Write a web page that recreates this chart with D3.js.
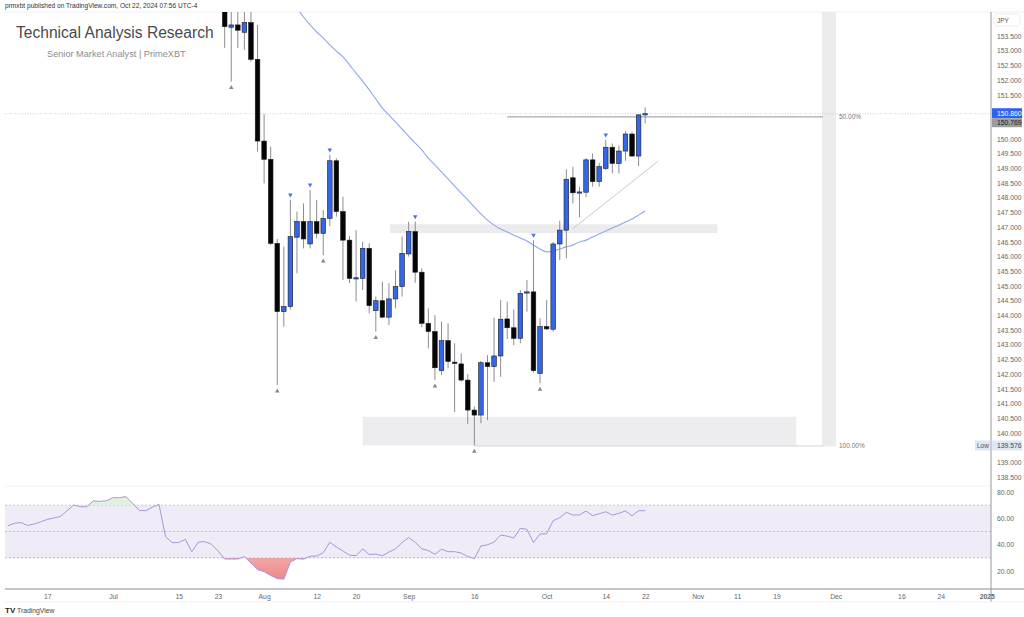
<!DOCTYPE html>
<html><head><meta charset="utf-8">
<script src="https://cdn.jsdelivr.net/npm/d3@7"></script>
<style>html,body{margin:0;padding:0;background:#fff;}svg{display:block;font-family:"Liberation Sans",Arial,sans-serif;}</style>
</head><body><svg id="c" width="1024" height="617"></svg>
<script>
// ---------- DATA ----------
const firstIdx = 17; // bar index of first candle (Jul 1 2024 = 0, weekdays)
const open  = [154.6,153.8,153.88,153.63,153.96,152.71,149.93,149.31,146.45,144.13,144.3,146.66,147.19,146.43,147.19,146.79,147.3,149.26,147.53,146.56,145.26,145.26,146.28,144.16,144.5,143.94,144.56,144.98,146.09,146.85,145.47,143.73,143.45,142.12,143.14,142.41,142.35,141.8,140.78,140.61,142.39,142.26,142.62,143.88,143.58,143.22,144.76,144.8,142.03,143.62,143.53,146.43,146.9,148.68,148.19,148.19,149.29,148.55,149.0,149.72,149.17,149.59,150.17,149.42,150.82];
const high  = [155.0,154.6,154.5,154.5,154.5,153.88,150.84,149.74,146.6,146.34,147.93,147.53,147.81,148.27,147.93,147.58,149.46,149.34,148.04,146.7,146.9,146.51,146.45,144.64,145.15,145.1,145.54,146.68,147.19,147.19,145.6,144.24,144.01,143.79,143.73,143.05,142.71,142.0,140.9,142.45,142.65,143.92,144.52,144.47,144.2,144.86,145.2,146.56,143.9,144.52,146.5,147.22,148.97,149.06,148.38,149.35,149.51,149.19,149.97,149.85,149.78,150.27,150.25,150.85,151.08];
const low   = [153.1,151.95,153.1,153.03,152.63,149.57,148.49,146.4,141.63,143.62,144.2,145.43,146.28,146.28,146.62,146.05,147.04,147.36,145.2,145.1,144.47,144.86,144.07,143.45,143.9,143.67,144.24,144.64,146.0,145.11,143.6,142.88,141.8,141.97,142.2,140.72,141.75,140.31,139.576,140.33,140.44,141.74,141.91,143.2,142.99,143.05,144.13,142.06,141.69,143.5,143.45,145.88,145.94,147.81,147.34,148.02,148.38,148.38,148.95,148.83,148.83,149.26,149.4,149.08,150.53];
const close = [153.82,153.88,153.7,153.96,152.71,149.93,149.31,146.45,144.13,144.3,146.68,147.19,146.6,147.19,146.79,147.3,149.26,147.53,146.56,145.26,145.28,146.28,144.33,144.5,143.94,144.56,144.98,146.11,146.85,145.47,143.73,143.45,142.22,143.14,142.43,142.39,141.8,140.78,140.61,142.39,142.26,142.62,143.87,143.58,143.22,144.75,144.8,142.12,143.62,143.54,146.43,146.9,148.63,148.17,148.2,149.29,148.55,149.06,149.72,149.17,149.59,150.17,149.42,150.82,150.86];
// moving average (blue line), bar indices 28..81
const maStart = 28;
const maValues = [154.45,154.15,153.88,153.64,153.44,153.2,152.99,152.79,152.52,152.24,151.97,151.67,151.36,151.05,150.82,150.58,150.34,150.1,149.86,149.63,149.35,149.12,148.88,148.64,148.4,148.16,147.93,147.69,147.45,147.24,147.07,146.94,146.84,146.73,146.63,146.53,146.39,146.26,146.16,146.19,146.26,146.33,146.39,146.5,146.56,146.67,146.77,146.87,146.97,147.07,147.18,147.28,147.41,147.55];
// RSI, bar indices -16..81
const rsiStart = -16;
const rsiValues = [54.3,56.3,56.8,54.6,55.7,57.3,59.2,60.3,61.4,65.8,70.1,68.8,68.8,73.2,72.9,73.4,75.7,75.7,76.5,71.3,66,65.8,68.5,70.6,46.1,41.5,41.6,44.1,34.7,42,42.3,40.3,35.2,29.1,29.1,29.1,30.9,26,21,19.5,16.6,14.2,13.8,26.8,29.4,29,31.2,31.4,33.9,41.8,38.2,35.3,32,31.6,36.8,32.5,32.9,31.6,34.4,36.8,41.5,45.4,41.8,36.8,35.5,32.7,36.5,34.7,34.7,33.6,31,29.4,39,39.9,42,47.3,46.5,45,52.4,51.6,41.7,48.1,48.3,58.2,60.5,64.6,62.5,62.6,65.5,62,63.4,65,62.5,63.8,65.6,61.8,65.8,65.8];
// pivot markers
const lowMarkIdx  = [18,25,32,40,49,55,65];
const highMarkIdx = [27,30,33,46,64,75];
// axis ticks
const xTickIdx    = [-10,0,10,16,23,31,37,45,55,66,75,81,89,95,101,110,120,126,133];
const xTickLabels = ["17","Jul","15","23","Aug","12","20","Sep","16","Oct","14","22","Nov","11","19","Dec","16","24","2025"];
const priceTicks  = [138.5,139,140,140.5,141,141.5,142,142.5,143,143.5,144,144.5,145,145.5,146,146.5,147,147.5,148,148.5,149,149.5,150,151.5,152,152.5,153,153.5];
const rsiTicks    = [80,60,40,20];
// drawings
const resBox = {i0:44, i1:92, p0:147.1, p1:146.8};
const supBox = {i0:38, i1:104, p0:140.55, p1:139.576};
const fibLevels = [{p:150.769,lab:"50.00%",i0:60},{p:139.576,lab:"100.00%",i0:55}];
const trend = [{i:70,p:146.95},{i:83,p:149.25}];
const lastPrice = 150.860, fib50 = 150.769, lowPrice = 139.576;

// ---------- SCALES ----------
const svg = d3.select("#c");
const x = d3.scaleLinear().domain([0,100]).range([113,113+657]);
const y = d3.scaleLinear().domain([150,140]).range([139,433]);
const yr = d3.scaleLinear().domain([80,20]).range([492,571]);
const L = 5, R = 991, T = 12, PB = 486, XA = 589;

svg.append("clipPath").attr("id","main").append("rect").attr("x",L).attr("y",T).attr("width",R-L).attr("height",PB-T);
svg.append("clipPath").attr("id","rsi").append("rect").attr("x",L).attr("y",PB).attr("width",R-L).attr("height",XA-PB);

// header
svg.append("text").attr("x",5).attr("y",8).attr("font-size",6.6).attr("fill","#333")
  .text("prmxbt published on TradingView.com, Oct 22, 2024 07:56 UTC-4");
svg.append("line").attr("x1",L).attr("x2",1024).attr("y1",T).attr("y2",T).attr("stroke","#eceef2");

const g = svg.append("g").attr("clip-path","url(#main)");

// fib shaded column
g.append("rect").attr("x",822).attr("y",T).attr("width",14).attr("height",y(lowPrice)-T+1).attr("fill","#ececec");
// boxes
g.append("rect").attr("x",x(resBox.i0)-12).attr("y",y(resBox.p0)).attr("width",x(resBox.i1)-x(resBox.i0)+12).attr("height",y(resBox.p1)-y(resBox.p0)).attr("fill","#ebebed");
g.append("rect").attr("x",x(supBox.i0)).attr("y",y(supBox.p0)).attr("width",x(supBox.i1)-x(supBox.i0)).attr("height",y(supBox.p1)-y(supBox.p0)).attr("fill","#ededef");
// fib lines
fibLevels.forEach((f,k)=>{
  g.append("line").attr("x1",x(f.i0)).attr("x2",823).attr("y1",y(f.p)+0.5).attr("y2",y(f.p)+0.5)
   .attr("stroke",k===0?"#777":"#c8c8c8").attr("stroke-width",0.8);
  g.append("text").attr("x",839).attr("y",y(f.p)+3).attr("font-size",6.5).attr("fill","#777").text(f.lab);
});
// current price dotted line
g.append("line").attr("x1",L).attr("x2",R).attr("y1",y(lastPrice)).attr("y2",y(lastPrice))
  .attr("stroke","#9fd3cc").attr("stroke-width",0.8).attr("stroke-dasharray","1,1.5");
// trend line
g.append("line").attr("x1",x(trend[0].i)).attr("y1",y(trend[0].p)).attr("x2",x(trend[1].i)).attr("y2",y(trend[1].p))
  .attr("stroke","#c4c4c4").attr("stroke-width",0.9);
// MA
const maLine = d3.line().x((d,k)=>x(maStart+k)).y(d=>y(d)).curve(d3.curveMonotoneX);
g.append("path").attr("d",maLine(maValues)).attr("fill","none").attr("stroke","#8ea6f2").attr("stroke-width",1.1);

// candles
const bars = open.map((o,k)=>({i:firstIdx+k,o,h:high[k],l:low[k],c:close[k]}));
const bw = 4.6;
const cg = g.append("g");
cg.selectAll("line.w").data(bars).join("line").attr("class","w")
  .attr("x1",d=>x(d.i)).attr("x2",d=>x(d.i)).attr("y1",d=>y(d.h)).attr("y2",d=>y(d.l))
  .attr("stroke","#8a8d95").attr("stroke-width",1);
cg.selectAll("rect.b").data(bars).join("rect").attr("class","b")
  .attr("x",d=>x(d.i)-bw/2).attr("width",bw)
  .attr("y",d=>y(Math.max(d.o,d.c))).attr("height",d=>Math.max(1.2,Math.abs(y(d.o)-y(d.c))))
  .attr("fill",d=>d.c>=d.o?"#3566ea":"#050505").attr("stroke","#1c1c1c").attr("stroke-width",0.6);
// markers
const byIdx = new Map(bars.map(b=>[b.i,b]));
const tri = d3.symbol().type(d3.symbolTriangle).size(9);
lowMarkIdx.forEach(i=>{const b=byIdx.get(i);
  g.append("path").attr("d",tri()).attr("transform",`translate(${x(i)},${y(b.l)+6})`).attr("fill","#888");});
highMarkIdx.forEach(i=>{const b=byIdx.get(i);
  g.append("path").attr("d",tri()).attr("transform",`translate(${x(i)},${y(b.h)-5}) rotate(180)`).attr("fill","#4a73ee");});

// title
svg.append("text").attr("x",16).attr("y",38).attr("font-size",15.6).attr("fill","#4a4a4a").text("Technical Analysis Research");
svg.append("text").attr("x",47).attr("y",57).attr("font-size",9.2).attr("fill","#8c8c8c").text("Senior Market Analyst | PrimeXBT");

// ---------- RSI pane ----------
svg.append("line").attr("x1",L).attr("x2",R).attr("y1",PB).attr("y2",PB).attr("stroke","#f0f1f4");
const rg = svg.append("g").attr("clip-path","url(#rsi)");
rg.append("rect").attr("x",L).attr("width",R-L).attr("y",yr(70)).attr("height",yr(30)-yr(70)).attr("fill","#efebf7");
[70,50,30].forEach(v=>rg.append("line").attr("x1",L).attr("x2",R).attr("y1",yr(v)).attr("y2",yr(v))
  .attr("stroke","#b8b8c0").attr("stroke-width",0.8).attr("stroke-dasharray","2,2"));
const defs = svg.append("defs");
const gr = defs.append("linearGradient").attr("id","redg").attr("x1",0).attr("x2",0).attr("y1",0).attr("y2",1);
gr.append("stop").attr("offset","0%").attr("stop-color","#f5c9c9").attr("stop-opacity",0.5);
gr.append("stop").attr("offset","100%").attr("stop-color","#ec7b7b").attr("stop-opacity",0.9);
defs.append("clipPath").attr("id","below30").append("rect").attr("x",L).attr("width",R-L).attr("y",yr(30)).attr("height",100);
defs.append("clipPath").attr("id","above70").append("rect").attr("x",L).attr("width",R-L).attr("y",PB).attr("height",yr(70)-PB);
const rArea30 = d3.area().x((d,k)=>x(rsiStart+k)).y0(yr(30)).y1(d=>yr(d));
const rArea70 = d3.area().x((d,k)=>x(rsiStart+k)).y0(yr(70)).y1(d=>yr(d));
rg.append("path").attr("d",rArea30(rsiValues)).attr("fill","url(#redg)").attr("clip-path","url(#below30)");
rg.append("path").attr("d",rArea70(rsiValues)).attr("fill","#dff2e2").attr("clip-path","url(#above70)");
const rLine = d3.line().x((d,k)=>x(rsiStart+k)).y(d=>yr(d));
rg.append("path").attr("d",rLine(rsiValues)).attr("fill","none").attr("stroke","#a996dc").attr("stroke-width",1);

// ---------- AXES ----------
svg.append("line").attr("x1",L).attr("x2",1024).attr("y1",XA).attr("y2",XA).attr("stroke","#8a8a8a").attr("stroke-width",1);
svg.append("line").attr("x1",R).attr("x2",R).attr("y1",T).attr("y2",602).attr("stroke","#9a9a9a").attr("stroke-width",1);
svg.append("line").attr("x1",L).attr("x2",1024).attr("y1",602).attr("y2",602).attr("stroke","#f0f0f0");
const xa = svg.append("g").attr("transform",`translate(0,${XA})`)
  .call(d3.axisBottom(x).tickValues(xTickIdx).tickSize(0).tickPadding(5).tickFormat((d,k)=>xTickLabels[k]));
xa.select(".domain").remove();
xa.selectAll("text").attr("font-size",6.8).attr("fill","#666").attr("font-family","Liberation Sans, Arial, sans-serif")
  .attr("font-weight",(d,k)=>xTickLabels[k]==="2025"?"bold":"normal");

const ya = svg.append("g").attr("transform",`translate(${R},0)`)
  .call(d3.axisRight(y).tickValues(priceTicks).tickSize(0).tickPadding(6).tickFormat(d3.format(".3f")));
ya.select(".domain").remove();
ya.selectAll("text").attr("font-size",6.8).attr("fill","#666").attr("font-family","Liberation Sans, Arial, sans-serif");
const ra = svg.append("g").attr("transform",`translate(${R},0)`)
  .call(d3.axisRight(yr).tickValues(rsiTicks).tickSize(0).tickPadding(6).tickFormat(d3.format(".2f")));
ra.select(".domain").remove();
ra.selectAll("text").attr("font-size",6.8).attr("fill","#666").attr("font-family","Liberation Sans, Arial, sans-serif");

// JPY box
svg.append("rect").attr("x",994).attr("y",14).attr("width",26).attr("height",12).attr("rx",2).attr("fill","#fff").attr("stroke","#eee");
svg.append("text").attr("x",997).attr("y",22.5).attr("font-size",6.5).attr("fill","#555").text("JPY");
// price labels
svg.append("rect").attr("x",R+1).attr("y",y(lastPrice)-5.5).attr("width",30).attr("height",10).attr("fill","#2f62f0");
svg.append("text").attr("x",R+6).attr("y",y(lastPrice)+2.5).attr("font-size",6.8).attr("fill","#fff").text(d3.format(".3f")(lastPrice));
svg.append("rect").attr("x",R+1).attr("y",y(lastPrice)+4.5).attr("width",30).attr("height",9).attr("fill","#9c9c9c");
svg.append("text").attr("x",R+6).attr("y",y(lastPrice)+11.5).attr("font-size",6.8).attr("fill","#222").text(d3.format(".3f")(fib50));
svg.append("rect").attr("x",R+1).attr("y",y(lowPrice)-5).attr("width",30).attr("height",10).attr("fill","#dde7f6");
svg.append("text").attr("x",R+6).attr("y",y(lowPrice)+2.5).attr("font-size",6.8).attr("fill","#444").text(d3.format(".3f")(lowPrice));
svg.append("rect").attr("x",R-16).attr("y",y(lowPrice)-5).attr("width",15).attr("height",10).attr("fill","#dde7f6");
svg.append("text").attr("x",R-14).attr("y",y(lowPrice)+2.5).attr("font-size",6.5).attr("fill","#555").text("Low");

// TradingView logo
svg.append("text").attr("x",5).attr("y",613).attr("font-size",8).attr("font-weight","bold").attr("fill","#222").text("TV");
svg.append("text").attr("x",17).attr("y",613).attr("font-size",6.8).attr("fill","#444").text("TradingView");
</script></body></html>
